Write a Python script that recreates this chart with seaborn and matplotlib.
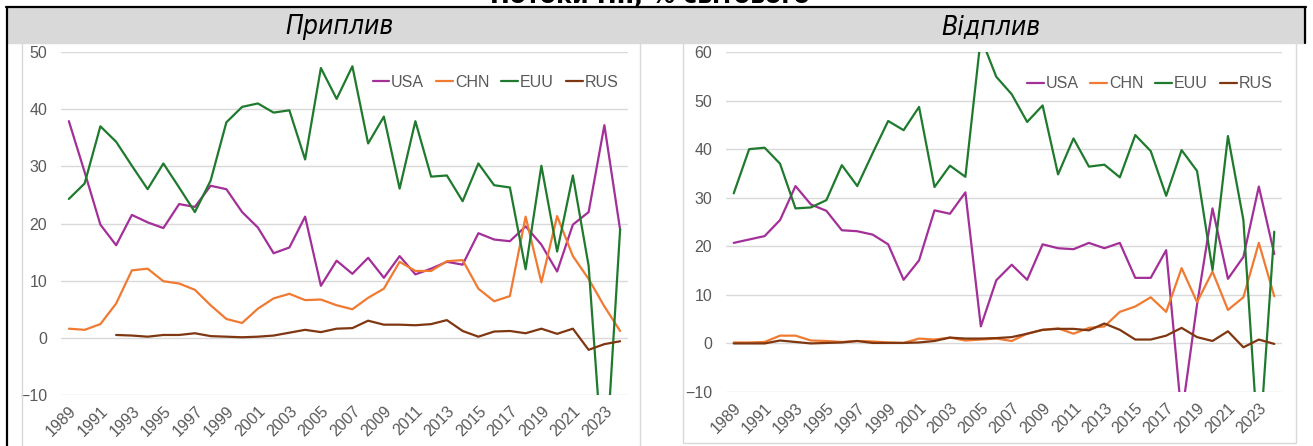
import numpy as np
import pandas as pd
import matplotlib
matplotlib.use('Agg')
import matplotlib.pyplot as plt
import seaborn as sns
from matplotlib.patches import Rectangle
from matplotlib.lines import Line2D

sns.set_theme(style='white')
plt.rcParams['font.family'] = ['Liberation Sans', 'DejaVu Sans']

W, H = 1313, 446

years = list(range(1989, 2025))
countries = ['USA', 'CHN', 'EUU', 'RUS']
colors = {'USA': '#a32f98', 'CHN': '#f07a32', 'EUU': '#1f7a2e', 'RUS': '#7e3710'}
text_grey = '#595959'
grid_grey = '#d9d9d9'

# Приплив (inflows), % of world
in_usa = [37.9, 29.0, 19.8, 16.2, 21.5, 20.2, 19.2, 23.4, 22.9, 26.6, 26.0, 22.0,
          19.3, 14.8, 15.8, 21.2, 9.1, 13.5, 11.2, 14.0, 10.5, 14.3, 11.1, 12.1,
          13.3, 12.8, 18.3, 17.2, 16.9, 19.5, 16.3, 11.6, 19.8, 22.0, 37.2, 18.9]
in_chn = [1.6, 1.4, 2.4, 6.0, 11.8, 12.1, 9.9, 9.5, 8.4, 5.7, 3.3, 2.6,
          5.1, 6.9, 7.7, 6.6, 6.7, 5.7, 5.0, 7.0, 8.6, 13.3, 11.7, 11.7,
          13.4, 13.6, 8.6, 6.4, 7.3, 21.2, 9.7, 21.3, 14.3, 10.3, 5.5, 1.2]
in_euu = [24.3, 27.0, 37.0, 34.3, 30.1, 26.0, 30.5, 26.3, 22.0, 27.5, 37.7, 40.4,
          41.0, 39.4, 39.8, 31.2, 47.2, 41.8, 47.5, 34.0, 38.7, 26.1, 37.9, 28.2,
          28.4, 23.9, 30.5, 26.7, 26.3, 12.0, 30.1, 15.1, 28.4, 12.6, -26.0, 19.0]
in_rus = [np.nan, np.nan, np.nan, 0.5, 0.4, 0.2, 0.5, 0.5, 0.8, 0.3, 0.2, 0.1,
          0.2, 0.4, 0.9, 1.4, 1.0, 1.6, 1.7, 3.0, 2.3, 2.3, 2.2, 2.4,
          3.1, 1.2, 0.2, 1.1, 1.2, 0.8, 1.6, 0.7, 1.6, -2.1, -1.1, -0.6]

# Відплив (outflows), % of world
out_usa = [20.7, 21.4, 22.1, 25.4, 32.4, 28.6, 27.3, 23.3, 23.1, 22.4, 20.4, 13.1,
           17.1, 27.4, 26.7, 31.1, 3.5, 13.0, 16.2, 13.1, 20.4, 19.6, 19.4, 20.7,
           19.6, 20.7, 13.5, 13.5, 19.2, -15.0, 8.0, 27.8, 13.3, 17.8, 32.3, 18.4]
out_chn = [0.2, 0.2, 0.3, 1.6, 1.6, 0.6, 0.5, 0.3, 0.5, 0.4, 0.2, 0.1,
           1.0, 0.8, 1.2, 0.6, 0.8, 1.0, 0.5, 2.0, 2.8, 3.1, 2.0, 3.2,
           3.5, 6.5, 7.6, 9.5, 6.5, 15.5, 8.5, 14.8, 6.9, 9.5, 20.7, 9.7]
out_euu = [30.9, 40.0, 40.3, 37.0, 27.8, 28.0, 29.5, 36.7, 32.4, 39.2, 45.8, 43.9,
           48.7, 32.2, 36.6, 34.3, 63.0, 54.9, 51.3, 45.6, 49.0, 34.8, 42.2, 36.4,
           36.8, 34.2, 42.9, 39.6, 30.4, 39.8, 35.5, 15.1, 42.7, 25.4, -23.0, 23.0]
out_rus = [0.0, 0.0, 0.0, 0.6, 0.3, 0.0, 0.1, 0.2, 0.5, 0.1, 0.1, 0.1,
           0.2, 0.5, 1.2, 1.0, 1.0, 1.1, 1.3, 2.0, 2.8, 3.0, 3.0, 2.7,
           4.1, 2.8, 0.8, 0.8, 1.6, 3.2, 1.3, 0.5, 2.5, -0.8, 0.8, -0.1]


def long_frame(usa, chn, euu, rus):
    df = pd.DataFrame({'year': years, 'USA': usa, 'CHN': chn, 'EUU': euu, 'RUS': rus})
    return df.melt(id_vars='year', var_name='country', value_name='value').dropna()


def px(x0, y0, x1, y1):
    # pixel box (top-left origin) -> figure rect
    return [x0 / W, 1 - y1 / H, (x1 - x0) / W, (y1 - y0) / H]


fig = plt.figure(figsize=(W / 100, H / 100), dpi=100)

# header band and borders
fig.patches.append(Rectangle((7 / W, 1 - 43 / H), (1305 - 7) / W, 35 / H,
                             transform=fig.transFigure, color='#d9d9d9', zorder=0))


def fline(xs, ys, color, lw):
    fig.lines.append(Line2D([x / W for x in xs], [1 - y / H for y in ys],
                            transform=fig.transFigure, color=color, lw=lw, zorder=1))


fline([6, 1306], [7, 7], 'black', 1.6)
fline([7, 7], [7, 446], 'black', 1.6)
fline([1305, 1305], [7, 43], 'black', 1.6)
fline([22, 22], [43, 446], grid_grey, 1.0)
fline([640, 640], [43, 446], grid_grey, 1.0)
fline([683, 683, 1296, 1296], [43, 443, 443, 43], grid_grey, 1.0)

# main title, mostly cut off by the top edge as in the source screenshot
fig.text(650 / W, 1 - 3 / H, 'Потоки ПІІ, % світового', ha='center', va='baseline',
         fontsize=17, fontweight='bold', family=['DejaVu Sans'], color='black')
for cx, title in [(340, 'Приплив'), (991, 'Відплив')]:
    fig.text(cx / W, 1 - 27 / H, title, ha='center', va='center', fontsize=19,
             style='italic', family=['DejaVu Sans'], fontstretch='condensed', color='black')

panels = [
    (px(61, 52, 628, 395), long_frame(in_usa, in_chn, in_euu, in_rus), (-10, 50), (0.983, 0.912)),
    (px(726, 52, 1282, 392), long_frame(out_usa, out_chn, out_euu, out_rus), (-10, 60), (0.983, 0.906)),
]

for rect, df, ylim, leg_pos in panels:
    ax = fig.add_axes(rect)
    ax.set_facecolor('none')
    sns.lineplot(data=df, x='year', y='value', hue='country', hue_order=countries,
                 palette=colors, estimator=None, errorbar=None, linewidth=1.6, ax=ax)
    ax.set_xlim(1988.5, 2024.5)
    ax.set_ylim(*ylim)
    ax.set_yticks(np.arange(ylim[0], ylim[1] + 1, 10))
    ax.set_xticks(years[::2])
    ax.set_xticklabels([str(y) for y in years[::2]], rotation=45, ha='right',
                       rotation_mode='anchor')
    ax.tick_params(axis='both', length=0, labelsize=11.5, labelcolor=text_grey)
    ax.tick_params(axis='y', pad=10)
    ax.tick_params(axis='x', pad=6)
    ax.yaxis.grid(True, color=grid_grey, lw=1.0)
    ax.xaxis.grid(False)
    for s in ax.spines.values():
        s.set_visible(False)
    ax.set_xlabel('')
    ax.set_ylabel('')
    handles, labels = ax.get_legend_handles_labels()
    ax.legend(handles, labels, ncol=4, frameon=False, loc='center right',
              bbox_to_anchor=leg_pos, handlelength=1.05, handletextpad=0.12,
              columnspacing=0.75, fontsize=11.5, labelcolor=text_grey,
              borderaxespad=0, borderpad=0)

fig.savefig('out.png', dpi=100)
